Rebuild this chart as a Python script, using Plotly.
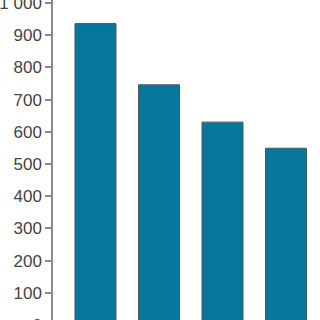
import plotly.graph_objects as go

categories = ["A", "B", "C", "D"]
values = [936, 746, 630, 549]
tick_values = [0, 100, 200, 300, 400, 500, 600, 700, 800, 900, 1000]
tick_labels = ["0", "100", "200", "300", "400", "500", "600", "700", "800", "900", "1 000"]

fig = go.Figure(
    go.Bar(
        x=categories,
        y=values,
        width=0.646,
        marker=dict(color="#06769a", line=dict(color="#4a5a62", width=1)),
    )
)

fig.update_layout(
    width=320,
    height=330,
    margin=dict(l=53, r=0, t=0, b=0, autoexpand=False),
    paper_bgcolor="white",
    plot_bgcolor="white",
    showlegend=False,
    font=dict(family="Liberation Sans, Arial, sans-serif", size=17, color="#444444"),
)
fig.update_xaxes(
    range=[-0.669, 3.535],
    showticklabels=False,
    showgrid=False,
    zeroline=False,
    showline=False,
    ticks="",
    automargin=False,
)
fig.update_yaxes(
    range=[-15.5, 1009.3],
    tickvals=tick_values,
    ticktext=tick_labels,
    ticks="outside",
    ticklen=6,
    tickwidth=1.5,
    tickcolor="#8a8a8a",
    showline=True,
    linecolor="#8a8a8a",
    linewidth=1.5,
    showgrid=False,
    zeroline=False,
    ticklabeloverflow="allow",
    automargin=False,
)

fig.write_html("out.html")
